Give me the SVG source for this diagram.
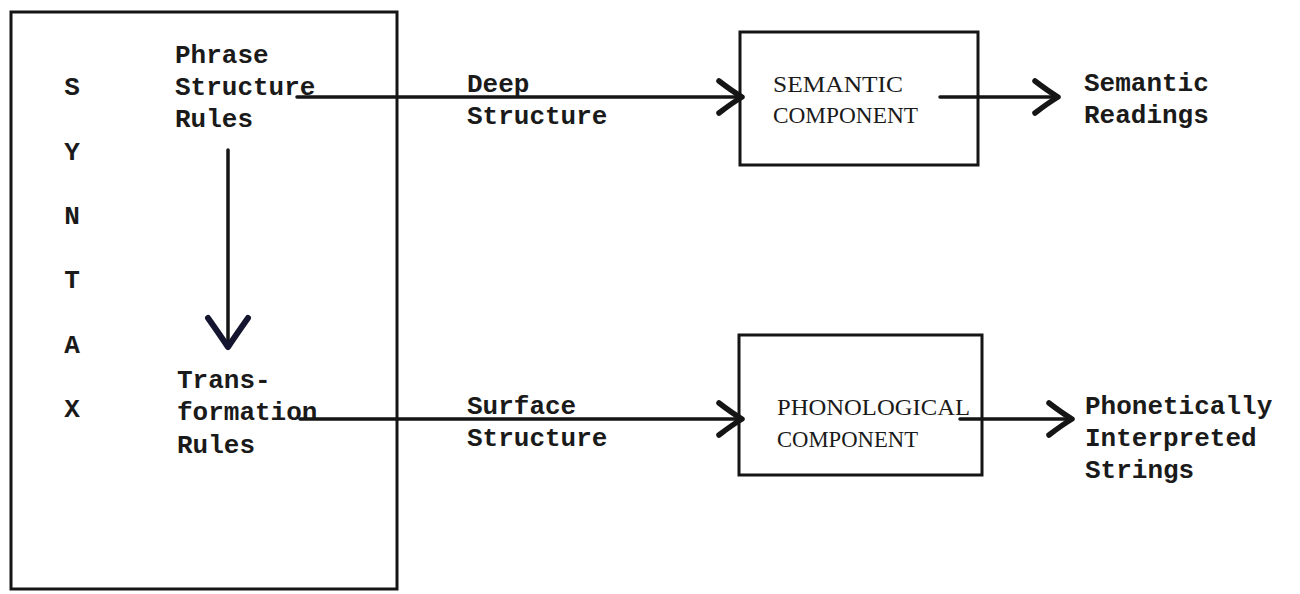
<svg xmlns="http://www.w3.org/2000/svg" width="1300" height="594" viewBox="0 0 1300 594">
<style>
.box{fill:none;stroke:#151515;stroke-width:3}
.tw{font-family:"Liberation Mono","DejaVu Sans Mono",monospace;font-size:26px;font-weight:bold;fill:#1a1a1a}
.sr{font-family:"Liberation Serif","Times New Roman",serif;font-size:23px;fill:#1a1a1a}
.ln{fill:none;stroke:#151515;stroke-width:3.5;stroke-linecap:round}
</style>
<defs>
<marker id="chev" markerUnits="userSpaceOnUse" viewBox="-30 -22 36 44" markerWidth="36" markerHeight="44" refX="0" refY="0" orient="auto">
<path d="M -23 -16 Q -10 -6 0 0 Q -10 6 -23 16" fill="none" stroke="#151515" stroke-width="5.5" stroke-linecap="round" stroke-linejoin="round"/>
</marker>
<marker id="chevV" markerUnits="userSpaceOnUse" viewBox="-36 -26 42 52" markerWidth="42" markerHeight="52" refX="0" refY="0" orient="auto">
<path d="M -29 -20 Q -12 -8 0 0 Q -12 8 -29 20" fill="none" stroke="#151530" stroke-width="6" stroke-linecap="round" stroke-linejoin="round"/>
</marker>
</defs>
<rect width="1300" height="594" fill="#ffffff"/>

<g id="syntax">
<rect class="box" x="11" y="12" width="386" height="577"/>
<g class="tw" text-anchor="middle">
<text x="72" y="95">S</text>
<text x="72" y="160">Y</text>
<text x="72" y="224">N</text>
<text x="72" y="288">T</text>
<text x="72" y="353">A</text>
<text x="72" y="417">X</text>
</g>
</g>

<g id="phrase-structure-rules">
<text class="tw" x="175" y="63">Phrase</text>
<text class="tw" x="175" y="95">Structure</text>
<text class="tw" x="175" y="127">Rules</text>
</g>

<g id="transformation-rules">
<text class="tw" x="177" y="388">Trans-</text>
<text class="tw" x="177" y="420">formation</text>
<text class="tw" x="177" y="453">Rules</text>
</g>

<g id="semantic-component">
<rect class="box" x="740" y="32" width="238" height="133"/>
<text class="sr" x="773" y="92" textLength="130" lengthAdjust="spacingAndGlyphs">SEMANTIC</text>
<text class="sr" x="773" y="123" textLength="145" lengthAdjust="spacingAndGlyphs">COMPONENT</text>
</g>

<g id="phonological-component">
<rect class="box" x="739" y="335" width="243" height="140"/>
<text class="sr" x="777" y="415" textLength="193" lengthAdjust="spacingAndGlyphs">PHONOLOGICAL</text>
<text class="sr" x="777" y="447" textLength="141" lengthAdjust="spacingAndGlyphs">COMPONENT</text>
</g>

<g id="semantic-readings">
<text class="tw" x="1084" y="91">Semantic</text>
<text class="tw" x="1084" y="123">Readings</text>
</g>

<g id="phonetic-strings">
<text class="tw" x="1085" y="414">Phonetically</text>
<text class="tw" x="1085" y="446">Interpreted</text>
<text class="tw" x="1085" y="478">Strings</text>
</g>

<g id="connectors">
<line class="ln" x1="297" y1="97" x2="742" y2="97" marker-end="url(#chev)"/>
<line class="ln" x1="940" y1="97" x2="1058" y2="97" marker-end="url(#chev)"/>
<line class="ln" x1="300" y1="419" x2="742" y2="419" marker-end="url(#chev)"/>
<line class="ln" x1="960" y1="419" x2="1072" y2="419" marker-end="url(#chev)"/>
<line class="ln" x1="228" y1="150" x2="228" y2="347" stroke="#151530" marker-end="url(#chevV)"/>
</g>

<g id="edge-labels">
<text class="tw" x="467" y="92">Deep</text>
<text class="tw" x="467" y="124">Structure</text>
<text class="tw" x="467" y="414">Surface</text>
<text class="tw" x="467" y="446">Structure</text>
</g>
</svg>
